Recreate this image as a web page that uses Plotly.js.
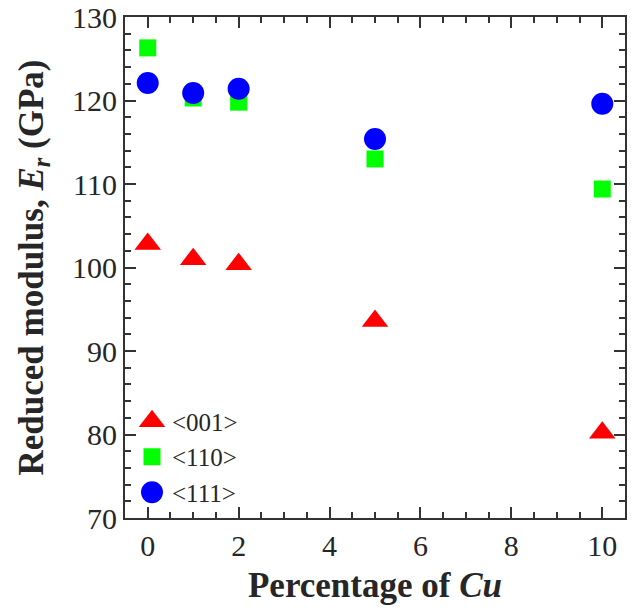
<!DOCTYPE html>
<html>
<head>
<meta charset="utf-8">
<script src="https://cdn.plot.ly/plotly-3.0.1.min.js"></script>
<style>html,body{margin:0;padding:0;background:#fff;}
#chart{position:relative;z-index:1;width:632px;height:614px;}
#prime{position:absolute;left:10px;top:10px;z-index:0;opacity:0;font-family:'Liberation Serif';font-size:20px;}
#chart text{font-family:'Liberation Serif', 'Times New Roman', serif !important;}</style>
</head>
<body>
<div id="prime">Aa 0123 <b>Bb</b> <i>Ii</i> <b><i>Cu</i></b></div>
<div id="chart"></div>
<script>
const cuPercent = [0, 1, 2, 5, 10];
const er001 = [102.8, 101.0, 100.4, 93.6, 80.2];
const er110 = [126.3, 120.3, 119.8, 113.0, 109.4];
const er111 = [122.1, 120.9, 121.4, 115.4, 119.6];
const seriesNames = ['&lt;001&gt;', '&lt;110&gt;', '&lt;111&gt;'];

const font = 'Liberation Serif';
const axisColor = '#333333';
const textColor = '#262626';
const markerSizes = [23, 17, 22];

const traces = [
  {x: cuPercent, y: er001, name: seriesNames[0], mode: 'markers', type: 'scatter',
   marker: {symbol: 'triangle-up', size: markerSizes[0], color: '#ff0000'}},
  {x: cuPercent, y: er110, name: seriesNames[1], mode: 'markers', type: 'scatter',
   marker: {symbol: 'square', size: markerSizes[1], color: '#00ff00'}},
  {x: cuPercent, y: er111, name: seriesNames[2], mode: 'markers', type: 'scatter',
   marker: {symbol: 'circle', size: markerSizes[2], color: '#0000ff'}}
];

const axCommon = {
  showline: true, linewidth: 2, linecolor: axisColor, mirror: 'ticks',
  ticks: 'inside', ticklen: 11, tickwidth: 2, tickcolor: axisColor,
  showgrid: false, zeroline: false,
  tickfont: {family: font, size: 30, color: textColor}
};

const layout = {
  width: 632, height: 614,
  margin: {l: 125, r: 7, t: 17, b: 96},
  paper_bgcolor: '#fff', plot_bgcolor: '#fff',
  font: {family: font, color: textColor},
  showlegend: true,
  legend: {x: 0.014, y: 0.005, xanchor: 'left', yanchor: 'bottom',
           bgcolor: 'rgba(0,0,0,0)', font: {family: font, size: 25, color: textColor},
           tracegroupgap: 0, itemsizing: 'trace'},
  xaxis: Object.assign({}, axCommon, {
    range: [-0.5, 10.5], dtick: 2, tick0: 0,
    minor: {dtick: 0.5, ticklen: 6, tickwidth: 2, tickcolor: axisColor, ticks: 'inside'},
    title: {text: '<b>Percentage of <i>Cu</i></b>', standoff: 11,
            font: {family: font, size: 35, color: textColor}}
  }),
  yaxis: Object.assign({}, axCommon, {
    range: [70, 130], dtick: 10, tick0: 70,
    minor: {dtick: 2, ticklen: 6, tickwidth: 2, tickcolor: axisColor, ticks: 'inside'},
    title: {text: '<b>Reduced modulus, <i>E</i><sub><i>r</i></sub> (GPa)</b>', standoff: 18,
            font: {family: font, size: 35, color: textColor}}
  })
};

function draw() {
  Plotly.newPlot('chart', traces, layout, {displayModeBar: false, staticPlot: true}).then(function () {
    document.querySelectorAll('.legend .traces').forEach(function (g, i) {
      const k = markerSizes[i] / 16;
      g.querySelectorAll('.legendpoints path').forEach(function (p) {
        const t = p.getAttribute('transform') || '';
        p.setAttribute('transform', t + ' scale(' + k + ')');
      });
    });
  });
}
if (document.fonts && document.fonts.load) {
  Promise.all([
    document.fonts.load('30px "Liberation Serif"'),
    document.fonts.load('bold 35px "Liberation Serif"'),
    document.fonts.load('italic bold 35px "Liberation Serif"')
  ]).then(draw, draw);
} else { draw(); }
</script>
</body>
</html>
